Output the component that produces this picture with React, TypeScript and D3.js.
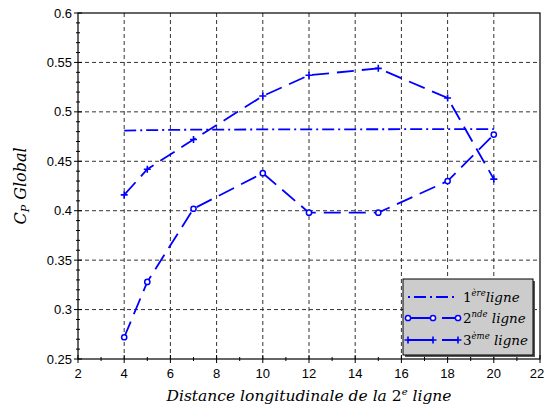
import React from "react";
import * as d3 from "d3";

const xValues = [4, 5, 7, 10, 12, 15, 18, 20];
const ligne1 = [0.481, 0.4815, 0.482, 0.4822, 0.4823, 0.4824, 0.4825, 0.4826];
const ligne2 = [0.272, 0.328, 0.402, 0.438, 0.398, 0.398, 0.43, 0.477];
const ligne3 = [0.416, 0.442, 0.472, 0.516, 0.537, 0.544, 0.514, 0.432];
const xTicks = [2, 4, 6, 8, 10, 12, 14, 16, 18, 20, 22];
const yTicks = [0.25, 0.3, 0.35, 0.4, 0.45, 0.5, 0.55, 0.6];
const yTickLabels = ["0.25", "0.3", "0.35", "0.4", "0.45", "0.5", "0.55", "0.6"];

const W = 544, H = 407;
const L = 78, R = 540, T = 13, B = 359;
const blue = "#0000ff";

export default function App() {
  const x = d3.scaleLinear().domain([2, 22]).range([L, R]);
  const y = d3.scaleLinear().domain([0.25, 0.6]).range([B, T]);
  const line = d3.line<number>().x((_, i) => x(xValues[i])).y((d) => y(d));
  const xMinor = d3.range(3, 22, 2);
  const yMinor = d3.range(0.25, 0.6001, 0.01).filter((v) => Math.abs(Math.round(v * 20) - v * 20) > 1e-6);
  const serif = "'DejaVu Serif', 'Liberation Serif', serif";
  const sans = "'Liberation Sans', Arial, sans-serif";
  const legX = 403, legY = 279, legW = 130, legH = 76;
  const rows = [297, 318, 340];
  const circle = (cx: number, cy: number, k: string) => (
    <circle key={k} cx={cx} cy={cy} r={2.6} fill="white" stroke={blue} strokeWidth={1.5} />
  );
  const plus = (cx: number, cy: number, k: string) => (
    <path key={k} d={`M${cx - 3.5},${cy}H${cx + 3.5}M${cx},${cy - 3.5}V${cy + 3.5}`} stroke={blue} strokeWidth={1.6} />
  );
  return (
    <div style={{ position: "absolute", left: 0, top: 0 }}>
      <svg width={W} height={H} style={{ display: "block", background: "white" }}>
        {/* grid */}
        {xTicks.slice(1, -1).map((t) => (
          <line key={"gx" + t} x1={x(t)} x2={x(t)} y1={T} y2={B} stroke="#333" strokeWidth={1} strokeDasharray="4,3" />
        ))}
        {yTicks.slice(1, -1).map((t) => (
          <line key={"gy" + t} x1={L} x2={R} y1={y(t)} y2={y(t)} stroke="#333" strokeWidth={1} strokeDasharray="4,3" />
        ))}
        {/* box */}
        <rect x={L} y={T} width={R - L} height={B - T} fill="none" stroke="black" strokeWidth={1.2} />
        {/* ticks */}
        {xTicks.map((t) => (
          <line key={"tx" + t} x1={x(t)} x2={x(t)} y1={B - 4} y2={B + 4} stroke="black" />
        ))}
        {xMinor.map((t) => (
          <line key={"mx" + t} x1={x(t)} x2={x(t)} y1={B - 2} y2={B + 2} stroke="black" />
        ))}
        {yTicks.map((t) => (
          <line key={"ty" + t} x1={L - 4} x2={L + 4} y1={y(t)} y2={y(t)} stroke="black" />
        ))}
        {yMinor.map((t, i) => (
          <line key={"my" + i} x1={L - 2} x2={L + 2} y1={y(t)} y2={y(t)} stroke="black" />
        ))}
        {xTicks.map((t) => (
          <text key={"lx" + t} x={t === 22 ? x(t) - 3 : x(t)} y={B + 19} textAnchor="middle" fontFamily={sans} fontSize={13}>{t}</text>
        ))}
        {yTicks.map((t, i) => (
          <text key={"ly" + t} x={L - 6} y={y(t) + 4.5} textAnchor="end" fontFamily={sans} fontSize={13}>{yTickLabels[i]}</text>
        ))}
        {/* axis labels */}
        <text x={309} y={401} textAnchor="middle" fontFamily={serif} fontStyle="italic" fontSize={15.5}>
          Distance longitudinale de la <tspan fontStyle="normal">2</tspan><tspan dy={-6} fontSize={10}>e</tspan><tspan dy={6}> ligne</tspan>
        </text>
        <text transform={`translate(26,${(T + B) / 2}) rotate(-90)`} textAnchor="middle" fontFamily={serif} fontStyle="italic" fontSize={16}>
          C<tspan dy={3} fontSize={11}>P</tspan><tspan dy={-3}> Global</tspan>
        </text>
        {/* series */}
        <path d={line(ligne1) || ""} fill="none" stroke={blue} strokeWidth={1.8} strokeDasharray="12,4,2,4" />
        <path d={line(ligne2) || ""} fill="none" stroke={blue} strokeWidth={1.8} strokeDasharray="17,8" />
        <path d={line(ligne3) || ""} fill="none" stroke={blue} strokeWidth={1.8} strokeDasharray="17,8" />
        {ligne2.map((v, i) => circle(x(xValues[i]), y(v), "c" + i))}
        {ligne3.map((v, i) => plus(x(xValues[i]), y(v), "p" + i))}
        {/* legend */}
        <rect x={legX + 2} y={legY + 2} width={legW} height={legH} fill="#555" />
        <rect x={legX} y={legY} width={legW} height={legH} fill="#cccccc" stroke="black" strokeWidth={1} />
        <line x1={408} x2={458} y1={rows[0]} y2={rows[0]} stroke={blue} strokeWidth={1.8} strokeDasharray="2,4,12,4" />
        <line x1={408} x2={458} y1={rows[1]} y2={rows[1]} stroke={blue} strokeWidth={1.8} strokeDasharray="26,8" />
        {[408, 433, 458].map((cx, i) => circle(cx, rows[1], "lc" + i))}
        <line x1={408} x2={458} y1={rows[2]} y2={rows[2]} stroke={blue} strokeWidth={1.8} strokeDasharray="26,8" />
        {[408, 433, 458].map((cx, i) => plus(cx, rows[2], "lp" + i))}
        <text x={463} y={rows[0] + 5} fontFamily={serif} fontSize={13.5}>
          1<tspan dy={-6} fontSize={8.5} fontStyle="italic">ère</tspan><tspan dy={6} fontStyle="italic">ligne</tspan>
        </text>
        <text x={463} y={rows[1] + 5} fontFamily={serif} fontSize={13.5}>
          2<tspan dy={-6} fontSize={8.5} fontStyle="italic">nde</tspan><tspan dy={6} fontStyle="italic"> ligne</tspan>
        </text>
        <text x={463} y={rows[2] + 5} fontFamily={serif} fontSize={13.5}>
          3<tspan dy={-6} fontSize={8.5} fontStyle="italic">ème</tspan><tspan dy={6} fontStyle="italic"> ligne</tspan>
        </text>
      </svg>
    </div>
  );
}
